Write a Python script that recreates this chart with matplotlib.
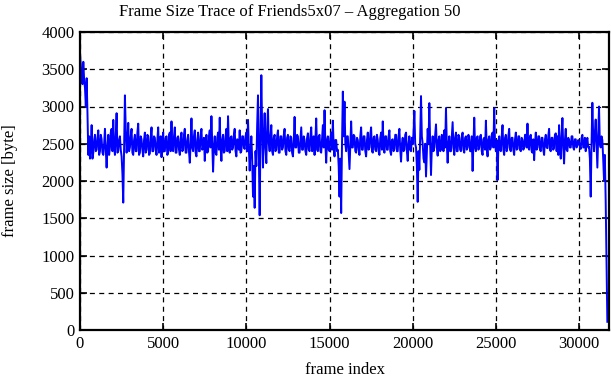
import numpy as np
import matplotlib
matplotlib.use("Agg")
import matplotlib.pyplot as plt

frame_step = 50
frame_size = [
    3700, 3550, 3400, 3300, 3600, 3350, 3250, 3000, 3380, 2900, 2350, 2600, 2300, 2450, 2750, 2300, 2380, 2550, 2620, 2400,
    2420, 2580, 2680, 2350, 2400, 2620, 2560, 2380, 2350, 2500, 2700, 2420, 2180, 2450, 2620, 2350, 2450, 2650, 2700, 2400,
    2820, 2450, 2350, 2600, 2910, 2380, 2400, 2550, 2600, 2420, 2330, 2100, 1710, 2450, 3150, 2700, 2380, 2520, 2780, 2400,
    2450, 2600, 2700, 2380, 2350, 2550, 2620, 2400, 2400, 2650, 2770, 2350, 2380, 2600, 2560, 2420, 2330, 2550, 2650, 2380,
    2420, 2620, 2600, 2350, 2370, 2580, 2720, 2400, 2400, 2600, 2580, 2420, 2350, 2550, 2720, 2380, 2450, 2600, 2320, 2550,
    2650, 2400, 2400, 2580, 2600, 2350, 2380, 2620, 2650, 2400, 2800, 2420, 2400, 2600, 2720, 2380, 2380, 2580, 2600, 2420,
    2350, 2560, 2650, 2400, 2420, 2620, 2700, 2380, 2380, 2550, 2620, 2400, 2245, 2500, 2840, 2450, 2400, 2600, 2680, 2380,
    2330, 2550, 2650, 2400, 2400, 2600, 2700, 2420, 2450, 2580, 2270, 2500, 2620, 2380, 2400, 2600, 2680, 2450, 2870, 2500,
    2125, 2450, 2600, 2380, 2350, 2580, 2650, 2420, 2850, 2450, 2270, 2550, 2620, 2380, 2400, 2600, 2700, 2400, 2870, 2450,
    2380, 2580, 2600, 2420, 2450, 2620, 2700, 2400, 2330, 2560, 2550, 2420, 2680, 2380, 2400, 2600, 2600, 2450, 2430, 2600,
    2650, 2400, 2820, 2450, 2140, 2400, 2600, 2300, 1790, 2200, 1640, 2400, 2200, 2750, 3150, 2300, 1540, 2600, 3420, 2700,
    2180, 2600, 2910, 2450, 2240, 2700, 2965, 2500, 2400, 2600, 2750, 2400, 2350, 2580, 2620, 2400, 2420, 2600, 2680, 2380,
    2380, 2600, 2600, 2420, 2450, 2620, 2700, 2400, 2350, 2580, 2620, 2420, 2400, 2600, 2580, 2380, 2330, 2550, 2860, 2450,
    2450, 2620, 2600, 2380, 2380, 2560, 2720, 2420, 2420, 2600, 2550, 2400, 2350, 2580, 2640, 2420, 2400, 2600, 2720, 2400,
    2450, 2600, 2350, 2550, 2840, 2420, 2400, 2600, 2620, 2400, 2380, 2560, 2750, 2450, 2950, 2500, 2245, 2550, 2600, 2420,
    2400, 2580, 2650, 2420, 2810, 2450, 2330, 2550, 2550, 2400, 2420, 2200, 1790, 2300, 1570, 2500, 3200, 2600, 3065, 2500,
    2400, 2600, 2600, 2380, 2160, 2500, 2800, 2450, 2450, 2620, 2600, 2400, 2380, 2580, 2550, 2420, 2350, 2600, 2720, 2420,
    2420, 2600, 2600, 2400, 2330, 2550, 2650, 2420, 2450, 2620, 2720, 2400, 2380, 2580, 2600, 2420, 2400, 2620, 2550, 2400,
    2350, 2580, 2650, 2420, 2800, 2450, 2380, 2600, 2600, 2420, 2420, 2600, 2680, 2400, 2350, 2550, 2560, 2400, 2430, 2620,
    2620, 2400, 2400, 2600, 2700, 2420, 2260, 2500, 2580, 2400, 2420, 2620, 2650, 2400, 2270, 2500, 2600, 2420, 2400, 2580,
    2500, 2650, 2940, 2500, 2450, 2200, 1720, 2400, 2150, 2600, 3140, 2600, 2500, 2300, 2250, 2500, 2060, 2400, 2700, 2500,
    3045, 2500, 2080, 2450, 2600, 2400, 2450, 2620, 2760, 2450, 2340, 2550, 2600, 2400, 2420, 2620, 2550, 2400, 2680, 2450,
    2980, 2500, 2245, 2500, 2600, 2400, 2400, 2600, 2790, 2450, 2350, 2580, 2650, 2400, 2400, 2620, 2580, 2420, 2400, 2600,
    2650, 2420, 2380, 2580, 2600, 2420, 2450, 2620, 2550, 2400, 2400, 2600, 2135, 2500, 2850, 2450, 2400, 2580, 2600, 2420,
    2450, 2600, 2620, 2400, 2350, 2560, 2580, 2420, 2810, 2450, 2330, 2550, 2600, 2420, 2450, 2620, 2650, 2450, 2980, 2500,
    2400, 2550, 2013, 2450, 2600, 2420, 2400, 2600, 2750, 2420, 2350, 2580, 2620, 2400, 2450, 2600, 2700, 2420, 2400, 2580,
    2580, 2420, 2350, 2560, 2650, 2420, 2430, 2600, 2600, 2420, 2400, 2580, 2550, 2420, 2450, 2620, 2620, 2450, 2770, 2450,
    2420, 2600, 2620, 2400, 2380, 2560, 2280, 2500, 2650, 2420, 2450, 2600, 2600, 2420, 2400, 2580, 2580, 2420, 2350, 2560,
    2620, 2450, 2440, 2600, 2700, 2420, 2400, 2580, 2580, 2420, 2450, 2620, 2640, 2400, 2600, 2350, 2750, 2450, 2300, 2600,
    2845, 2450, 2235, 2550, 2700, 2420, 2400, 2580, 2550, 2450, 2450, 2600, 2600, 2450, 2420, 2560, 2560, 2450, 2480, 2550,
    2520, 2460, 2430, 2580, 2620, 2450, 2450, 2580, 2400, 2520, 2580, 2450, 2460, 2300, 1790, 2500, 3050, 2600, 2400, 2650,
    2825, 2500, 2180, 2600, 3000, 2500, 2450, 2600, 2550, 2300, 2013, 2350, 1745, 900, 110,
]
x_ticks = [0, 5000, 10000, 15000, 20000, 25000, 30000]
y_ticks = [0, 500, 1000, 1500, 2000, 2500, 3000, 3500, 4000]
x_max = 31800

plt.rcParams['font.family'] = ['Liberation Serif', 'DejaVu Serif']
plt.rcParams['font.size'] = 12

fig = plt.figure(figsize=(6.11, 3.80), dpi=100)
ax = fig.add_axes([80/611, 1-330/380, 529/611, 298/380])

frames = np.arange(len(frame_size)) * frame_step
ax.plot(frames, frame_size, color='#0000ff', lw=1.4, zorder=3)

ax.set_xlim(0, x_max)
ax.set_ylim(0, 4000)
ax.set_xticks(x_ticks)
ax.set_yticks(y_ticks)
ax.grid(True, color='black', linestyle=(0, (4, 3.5)), linewidth=0.9)
ax.tick_params(direction='in', length=5, width=1.2, top=True, right=True,
               labelsize=12, pad=4, colors='black')
for s in ax.spines.values():
    s.set_linewidth(1.6)
    s.set_zorder(4)

fig.text(290/611, 1-12/380, 'Frame Size Trace of Friends5x07 – Aggregation 50',
         ha='center', va='center', fontsize=12)
ax.set_xlabel('frame index', fontsize=12)
ax.set_ylabel('frame size [byte]', fontsize=12)
ax.xaxis.set_label_coords((345-80)/529, (330-362)/298)
ax.yaxis.set_label_coords((18-80)/529, 0.5)

fig.savefig('out.png', dpi=100)
